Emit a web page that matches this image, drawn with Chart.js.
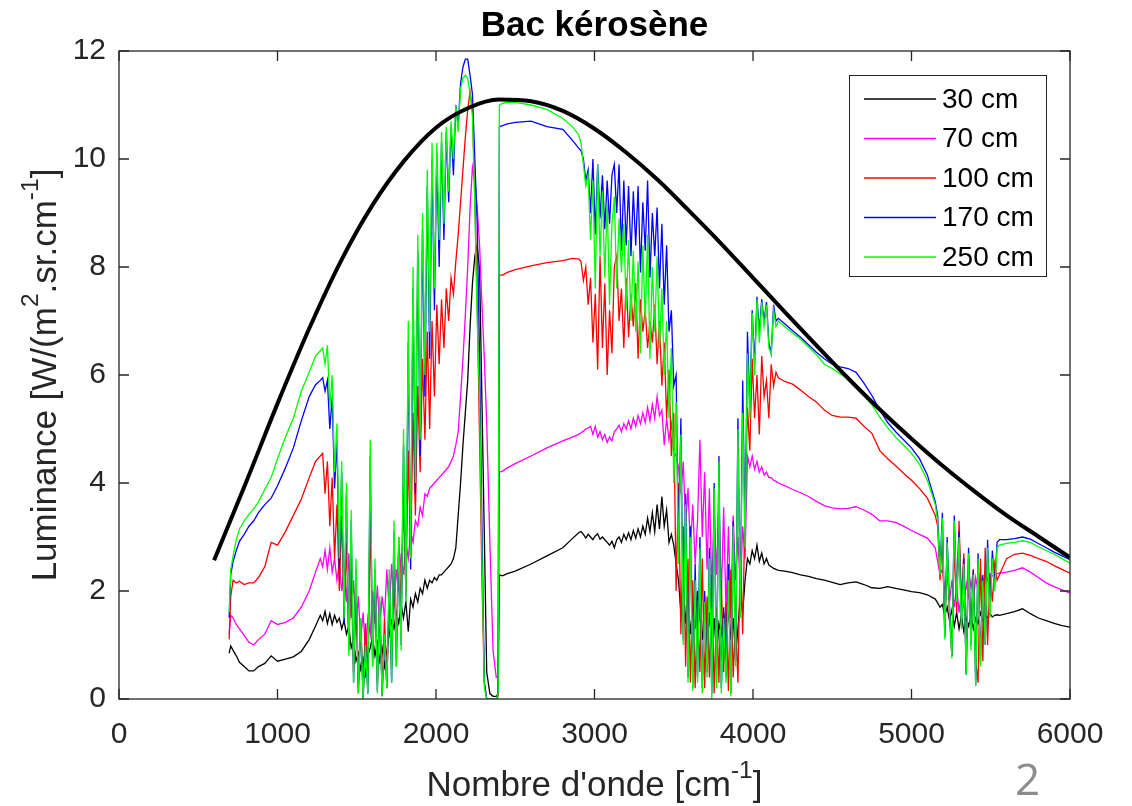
<!DOCTYPE html>
<html>
<head>
<meta charset="utf-8">
<script src="https://cdn.jsdelivr.net/npm/chart.js@4.4.0/dist/chart.umd.min.js"></script>
<style>
  body { margin: 0; background: #fff; }
  #wrap { position: relative; width: 1132px; height: 806px; }
  #slide { position: absolute; left: 1015px; top: 748px; font: 44px "Open Sans", sans-serif; color: #8c8c8c; }
</style>
</head>
<body>
<div id="wrap">
  <canvas id="spectre" width="1132" height="806"></canvas>
  <div id="slide">2</div>
</div>
<script>
// wavenumber grid shared by the measured spectra (cm-1)
const wn = [
  695, 705, 720, 740, 760, 790, 820, 850, 880, 920, 960, 1000, 1050, 1100, 1150, 1200, 1240, 1270,
  1285, 1300, 1315, 1330, 1345, 1360, 1375, 1390, 1405, 1420,
  1435, 1450, 1465, 1480, 1495, 1510, 1525, 1540, 1555, 1570,
  1585, 1600, 1615, 1630, 1645, 1660, 1675, 1690, 1705, 1720,
  1735, 1750, 1765, 1780, 1795, 1810, 1825, 1840, 1855, 1870,
  1885, 1900, 1915, 1930, 1945, 1960, 1975, 1990, 2005, 2020,
  2035, 2050, 2065, 2080, 2095, 2110, 2125, 2140, 2155, 2170,
  2185, 2200, 2215,
  2230, 2245, 2260, 2275, 2290, 2305, 2320, 2340, 2360, 2380, 2392, 2400, 2420,
  2450, 2500, 2600, 2700, 2800, 2860, 2900,
  2915, 2930, 2945, 2960, 2975, 2990, 3005, 3020, 3035, 3050,
  3065, 3080, 3095, 3110, 3125, 3140, 3155, 3170, 3185, 3200,
  3215, 3230, 3245, 3260, 3275, 3290, 3305, 3320, 3335, 3350,
  3365, 3380, 3395, 3410, 3425, 3440, 3455, 3470, 3485, 3500,
  3515, 3530, 3545, 3560, 3575, 3590, 3605, 3620, 3635, 3650,
  3665, 3680, 3695, 3710, 3725, 3740, 3755, 3770, 3785, 3800,
  3815, 3830, 3845, 3860, 3875, 3890, 3905, 3920, 3935, 3950,
  3965, 3980, 3995, 4010, 4025, 4040, 4055, 4070, 4085, 4100,
  4115, 4130, 4145, 4160,
  4200, 4250, 4300, 4350, 4400, 4450, 4500, 4550, 4600, 4650,
  4700, 4750, 4800, 4850, 4900, 4950, 5000, 5050, 5100, 5150,
  5165, 5180, 5195, 5210, 5225, 5240, 5255, 5270, 5285, 5300,
  5315, 5330, 5345, 5360, 5375, 5390, 5405, 5420, 5435, 5450,
  5465, 5480, 5495, 5510, 5525, 5540, 5555,
  5600, 5650, 5700, 5750, 5800, 5850, 5900, 5950, 6000
];

const lum30 = [
  0.85, 0.98, 0.9, 0.8, 0.68, 0.6, 0.52, 0.52, 0.6, 0.66, 0.8, 0.7, 0.74, 0.78, 0.88, 1.1, 1.35, 1.55,
  1.45, 1.62, 1.4, 1.58, 1.38, 1.55, 1.42, 1.5, 1.3, 1.45,
  1.2, 1.35, 0.95, 1.1, 0.7, 0.85, 0.55, 0.75, 0.45, 0.8,
  0.95, 1.15, 0.8, 1.05, 0.7, 0.95, 0.6, 0.9, 1.2, 1.45,
  1.3, 1.6, 1.4, 1.75, 1.5, 1.8, 1.25, 1.85, 1.7, 1.95,
  1.8, 2.05, 1.95, 2.2, 2.05, 2.2, 2.15, 2.25, 2.2, 2.3,
  2.3, 2.35, 2.4, 2.45, 2.5, 2.6, 2.8, 3.4, 4.0, 4.7,
  5.3, 5.9, 6.9,
  7.7, 8.2, 8.4, 7.95, 5.5, 3.0, 0.5, 0.1, 0.05, 0.05, 0.1, 2.3, 2.28,
  2.32, 2.37, 2.5, 2.65, 2.8, 2.97, 3.08,
  3.1, 3.05, 2.98, 3.05, 3.0, 2.95, 3.02, 3.06, 2.96, 3.0,
  2.95, 2.9, 2.85, 2.92, 2.8, 2.95, 3.0, 2.9, 3.05, 2.95,
  3.08, 2.95, 3.12, 2.98, 3.15, 3.0, 3.2, 3.05, 3.35, 3.1,
  3.45, 3.1, 3.6, 3.15, 3.75, 3.2, 3.5, 2.9, 3.05, 2.85,
  2.5, 2.2, 1.6, 2.1, 1.4, 1.9, 1.2, 1.75, 1.3, 2.0,
  1.5, 1.1, 1.8, 0.9, 1.6, 1.0, 1.5, 0.8, 1.4, 1.2,
  1.6, 0.9, 1.7, 1.1, 1.5, 0.8, 1.3, 1.9, 1.6, 2.2,
  2.6, 2.5, 2.75, 2.6, 2.85, 2.55, 2.7, 2.5, 2.6, 2.48,
  2.45, 2.42, 2.4, 2.38,
  2.37, 2.34, 2.3, 2.27, 2.23, 2.2, 2.16, 2.12, 2.15, 2.17,
  2.12, 2.06, 2.05, 2.08, 2.05, 2.02, 1.99, 1.97, 1.93, 1.85,
  1.78, 1.7, 1.75, 1.55, 1.7, 1.45, 1.65, 1.35, 1.6, 1.3,
  1.55, 1.25, 1.5, 1.35, 1.55, 1.3, 1.5, 1.4, 1.6, 1.45,
  1.55, 1.5, 1.58, 1.52, 1.55, 1.56, 1.55,
  1.58, 1.62, 1.67, 1.58, 1.5, 1.45, 1.4, 1.36, 1.33
];

const lum70 = [
  1.2, 1.55, 1.5, 1.38, 1.3, 1.18, 1.05, 1.0, 1.1, 1.2, 1.45, 1.38, 1.42, 1.5, 1.7, 2.0, 2.35, 2.6,
  2.45, 2.75, 2.4, 2.8, 2.35, 2.6, 2.2, 2.5, 2.0, 2.4,
  1.8, 2.7, 1.5, 2.2, 1.3, 1.9, 1.1, 1.6, 0.9, 1.5,
  1.2, 2.0, 1.4, 2.1, 1.3, 1.9, 1.5, 2.4, 1.6, 2.5,
  1.7, 2.4, 2.0, 2.7, 2.3, 2.9, 2.6, 3.1, 2.9, 3.3,
  3.2, 3.55, 3.4, 3.8, 3.75, 3.9, 3.95, 4.0, 4.05, 4.1,
  4.15, 4.2, 4.25, 4.3, 4.4, 4.5, 4.7, 4.95, 5.6, 6.3,
  7.1, 8.0, 9.1,
  9.85, 9.6, 9.1, 8.4, 7.3, 6.3, 5.1, 2.9, 0.9, 0.4, 0.4, 4.2, 4.22,
  4.28, 4.36, 4.5, 4.65, 4.78, 4.85, 4.9,
  4.93, 4.96, 5.0, 5.02, 5.05, 4.9, 5.05, 4.85, 4.95, 4.8,
  4.9, 4.75, 4.85, 4.78, 4.95, 5.0, 5.07, 4.95, 5.1, 5.0,
  5.15, 5.0, 5.2, 5.05, 5.25, 5.1, 5.3, 5.12, 5.4, 5.15,
  5.45, 5.2, 5.6, 5.25, 5.35, 4.7, 5.2, 4.8, 5.1, 4.6,
  4.5, 4.3, 3.8, 4.4, 3.2, 3.9, 2.8, 3.6, 2.5, 3.3,
  4.8, 3.0, 4.2, 2.4, 3.9, 2.0, 3.5, 2.3, 3.7, 1.9,
  3.55, 1.6, 3.2, 1.5, 3.4, 2.2, 3.0, 2.0, 3.2, 2.6,
  4.5, 4.3, 4.5, 4.25, 4.4, 4.2, 4.3, 4.15, 4.2, 4.1,
  4.1, 4.05, 4.03, 4.0,
  3.95, 3.88, 3.82, 3.75, 3.66, 3.58, 3.54, 3.52, 3.53, 3.56,
  3.5, 3.42, 3.3, 3.3, 3.27, 3.2, 3.12, 3.05, 2.98, 2.8,
  2.55, 2.3, 2.4, 2.0, 2.3, 1.8, 2.2, 1.7, 2.1, 1.6,
  2.0, 1.7, 2.15, 1.9, 2.2, 1.8, 2.25, 2.0, 2.3, 2.1,
  2.3, 2.2, 2.32, 2.28, 2.3, 2.32, 2.33,
  2.35, 2.38, 2.43, 2.35, 2.25, 2.15, 2.08, 2.02, 1.96
];

const lum100 = [
  1.1, 1.9, 2.2, 2.15, 2.18, 2.12, 2.15, 2.15, 2.25, 2.45, 2.9, 2.85, 3.1, 3.4, 3.7, 4.1, 4.4, 4.5,
  4.55, 3.8, 4.4, 3.2, 4.1, 2.6, 3.6, 2.0, 3.4, 1.6,
  2.9, 1.0, 2.4, 0.5, 1.8, 0.2, 1.5, 0.1, 1.4, 0.3,
  3.4, 0.8, 2.2, 0.3, 1.7, 0.15, 1.5, 0.3, 1.9, 0.6,
  2.4, 1.0, 3.0, 1.6, 3.8, 2.0, 4.6, 2.6, 5.3, 3.4,
  5.8, 4.2, 6.3, 4.8, 6.8, 5.0, 7.0, 5.6, 7.3, 6.2,
  7.4, 6.5, 7.6, 7.0, 7.8, 7.5, 8.1, 8.6, 9.2, 9.8,
  10.4, 10.9, 11.25,
  10.9, 9.3, 7.3, 4.8, 2.2, 0.3, 0.0, 0.0, 0.0, 0.0, 0.05, 7.85, 7.85,
  7.9, 7.95, 8.02, 8.08, 8.12, 8.16, 8.15,
  8.1, 7.75, 8.0, 7.3, 7.8, 6.6, 7.5, 6.1, 8.2, 6.5,
  7.7, 6.0, 7.2, 6.4, 8.0, 8.2, 7.0, 7.6, 6.5, 7.8,
  6.7, 7.5, 6.9, 7.7, 6.3, 7.4, 6.8, 7.2, 6.5, 7.0,
  6.6, 7.3, 6.2, 7.0, 5.8, 6.6, 5.2, 6.1, 4.5, 5.3,
  2.0, 4.0, 1.2, 3.2, 0.6, 2.6, 0.3, 2.2, 0.2, 1.8,
  0.5, 2.6, 0.2, 1.9, 0.4, 2.3, 0.1, 1.7, 0.3, 2.2,
  0.5, 1.8, 0.15, 2.4, 0.4, 1.5, 0.3, 2.8, 1.2, 3.6,
  5.4, 4.6, 6.3, 5.2, 6.0, 4.9, 6.35, 5.6, 5.9, 5.2,
  6.2, 5.8, 6.05, 5.95,
  5.88, 5.83, 5.72, 5.6, 5.5, 5.35, 5.25, 5.22, 5.22, 5.2,
  5.05, 4.92, 4.6, 4.45, 4.32, 4.18, 4.05, 3.9, 3.72, 3.4,
  3.2, 2.2, 3.0, 1.2, 2.8, 1.5, 0.8, 2.9, 1.6, 3.3,
  1.8, 2.7, 0.5, 2.6, 1.2, 2.4, 0.7, 0.3, 2.6, 0.7,
  2.8, 1.0, 2.3, 1.8, 2.5, 2.2, 2.3,
  2.6, 2.68, 2.7, 2.66, 2.6, 2.55, 2.47, 2.4, 2.33
];

const lum170 = [
  1.5, 2.3, 2.55, 2.75, 2.92, 3.05, 3.2, 3.3, 3.45, 3.6, 3.72, 3.95, 4.28, 4.65, 5.15, 5.6, 5.82, 5.9,
  5.95, 5.7, 5.9, 5.0, 5.6, 3.9, 4.8, 2.4, 4.2, 1.4,
  3.8, 0.9, 3.3, 0.3, 2.4, 0.1, 1.4, 0.0, 1.0, 0.1,
  4.5, 0.6, 2.4, 0.15, 1.8, 0.05, 1.1, 0.2, 2.2, 0.3,
  3.1, 0.6, 2.8, 1.0, 4.7, 1.9, 6.6, 2.4, 7.6, 3.8,
  8.3, 4.5, 8.7, 5.6, 9.5, 6.3, 10.0, 7.2, 10.1, 8.0,
  10.3, 8.5, 10.5, 9.2, 10.6, 9.7, 11.0, 10.6, 11.4, 11.7,
  11.85, 11.85, 11.55,
  11.2, 10.0, 8.8, 6.3, 3.2, 0.3, 0.0, 0.0, 0.0, 0.0, 0.1, 10.6, 10.62,
  10.65, 10.68, 10.7, 10.6, 10.55, 10.35, 10.2,
  10.15, 10.0, 9.6, 9.8, 9.0, 10.0, 8.6, 9.9, 8.9, 9.7,
  8.7, 9.6, 8.8, 9.7, 9.9, 9.0, 9.9, 8.3, 9.6, 8.4,
  9.5, 8.2, 9.4, 8.4, 9.5, 7.9, 9.2, 8.3, 9.6, 7.8,
  9.0, 8.2, 9.1, 7.6, 8.8, 7.3, 8.4, 6.8, 7.2, 5.8,
  6.0, 2.8, 5.2, 1.1, 3.8, 0.4, 3.2, 0.2, 2.5, 0.4,
  3.0, 0.2, 2.0, 0.5, 2.8, 0.1, 4.0, 0.3, 4.5, 0.2,
  1.7, 0.4, 2.5, 0.1, 3.3, 0.7, 5.2, 1.6, 5.9, 3.0,
  6.8, 5.4, 7.2, 6.2, 7.45, 6.8, 7.4, 7.0, 7.35, 6.6,
  6.4, 7.3, 7.0, 7.05,
  6.95, 6.82, 6.7, 6.56, 6.42, 6.3, 6.2, 6.15, 6.12, 6.05,
  5.85, 5.62, 5.35, 5.12, 4.95, 4.8, 4.65, 4.45, 4.15, 3.65,
  3.4, 2.4, 3.45, 1.15, 3.0, 1.7, 0.8, 3.4, 1.9, 3.1,
  1.4, 2.6, 0.45, 2.8, 1.0, 2.4, 0.25, 2.7, 0.65, 2.3,
  1.0, 2.95, 1.6, 2.75, 2.1, 2.9, 2.95,
  2.95, 2.97, 3.0, 2.96, 2.88, 2.8, 2.72, 2.65, 2.58
];

const lum250 = [
  1.6, 2.4, 2.65, 2.95, 3.15, 3.3, 3.42, 3.52, 3.65, 3.88, 4.1, 4.45, 4.85, 5.2, 5.7, 6.05, 6.35, 6.45,
  6.5, 6.2, 6.55, 5.4, 6.0, 4.2, 5.1, 2.6, 4.4, 1.5,
  4.0, 0.8, 3.5, 0.3, 2.6, 0.1, 1.5, 0.0, 1.0, 0.1,
  4.8, 0.6, 2.6, 0.1, 1.9, 0.05, 1.2, 0.2, 2.4, 0.3,
  3.3, 0.6, 3.0, 0.9, 5.0, 1.8, 7.0, 2.6, 8.0, 4.0,
  8.6, 4.8, 9.0, 6.0, 9.8, 6.8, 10.3, 7.6, 10.3, 8.5,
  10.5, 8.8, 10.6, 9.4, 10.7, 10.0, 11.0, 10.5, 11.3, 11.5,
  11.55, 11.5, 11.2,
  10.8, 9.1, 7.0, 5.5, 2.6, 0.2, 0.0, 0.0, 0.0, 0.0, 0.1, 11.0, 11.03,
  11.05, 11.05, 11.0, 10.92, 10.75, 10.6, 10.45,
  10.3, 9.9, 9.5, 9.7, 8.5, 9.6, 7.6, 9.9, 8.2, 9.4,
  7.8, 9.2, 7.3, 8.8, 9.3, 7.6, 8.9, 7.9, 8.8, 7.2,
  8.5, 7.0, 8.3, 6.8, 8.1, 6.4, 8.4, 7.0, 8.6, 6.3,
  8.0, 6.8, 8.2, 6.5, 7.6, 6.0, 7.0, 5.2, 6.5, 4.0,
  5.5, 2.5, 4.9, 1.0, 3.6, 0.3, 3.0, 0.15, 2.2, 0.3,
  2.8, 0.1, 1.8, 0.4, 2.6, 0.0, 3.9, 0.2, 4.4, 0.1,
  1.5, 0.3, 2.2, 0.05, 3.2, 0.6, 5.0, 1.5, 5.3, 2.8,
  6.4, 5.2, 7.15, 6.0, 7.4, 6.6, 7.35, 6.9, 7.3, 6.5,
  6.4, 7.2, 6.9, 7.0,
  6.9, 6.78, 6.66, 6.52, 6.38, 6.2, 6.12, 6.02, 5.93, 5.8,
  5.62, 5.45, 5.22, 5.02, 4.85, 4.7, 4.55, 4.35, 4.05, 3.6,
  3.3, 2.3, 3.35, 1.1, 2.9, 1.6, 0.75, 3.3, 1.8, 3.0,
  1.3, 2.5, 0.45, 2.7, 0.9, 2.3, 0.25, 2.6, 0.6, 2.2,
  1.0, 2.8, 1.5, 2.6, 2.0, 2.8, 2.85,
  2.88, 2.9, 2.93, 2.9, 2.82, 2.75, 2.68, 2.6, 2.52
];

// black-body reference curve (thick line)
const bbWn = [600, 800, 1000, 1200, 1400, 1600, 1800, 2000, 2200, 2400, 2600, 2800, 3000, 3200,
  3400, 3600, 3800, 4000, 4200, 4400, 4600, 4800, 5000, 5200, 5400, 5600, 5800, 6000];
const bbLum = [2.57, 4.0, 5.47, 6.86, 8.11, 9.15, 9.97, 10.58, 10.94, 11.1, 11.07, 10.89, 10.56, 10.12,
  9.61, 9.03, 8.43, 7.8, 7.17, 6.55, 5.94, 5.36, 4.82, 4.31, 3.84, 3.4, 3.01, 2.62];

const labels = ['30 cm', '70 cm', '100 cm', '170 cm', '250 cm'];
const colors = ['#000000', '#ff00ff', '#ff0000', '#0000ff', '#00ff00'];
const series = [lum30, lum70, lum100, lum170, lum250];
const xTicks = [0, 1000, 2000, 3000, 4000, 5000, 6000];
const yTicks = [0, 2, 4, 6, 8, 10, 12];

series.forEach((s, i) => {
  if (s.length !== wn.length) throw new Error(labels[i] + ': ' + s.length + ' vs ' + wn.length);
});

const FONT = '"Liberation Sans", Arial, Helvetica, sans-serif';
const INK = '#262626';

// text with superscripts, centred on (0,0)
function richText(ctx, parts, size, bold) {
  const w = bold ? 'bold ' : '';
  let total = 0;
  parts.forEach(p => {
    ctx.font = w + (p.sup ? size * 0.7 : size) + 'px ' + FONT;
    p.w = ctx.measureText(p.t).width;
    total += p.w;
  });
  let x = -total / 2;
  ctx.textAlign = 'left';
  ctx.textBaseline = 'middle';
  parts.forEach(p => {
    ctx.font = w + (p.sup ? size * 0.7 : size) + 'px ' + FONT;
    ctx.fillText(p.t, x, p.sup ? -size * 0.42 : 0);
    x += p.w;
  });
}

const decor = {
  id: 'decor',
  afterDatasetsDraw(chart) {
    const { ctx, chartArea: a, scales: { x, y } } = chart;
    ctx.save();
    // axes box + inward ticks
    ctx.strokeStyle = INK;
    ctx.lineWidth = 1.3;
    ctx.strokeRect(a.left, a.top, a.right - a.left, a.bottom - a.top);
    ctx.beginPath();
    xTicks.forEach(v => {
      const px = x.getPixelForValue(v);
      ctx.moveTo(px, a.bottom); ctx.lineTo(px, a.bottom - 10);
      ctx.moveTo(px, a.top); ctx.lineTo(px, a.top + 10);
    });
    yTicks.forEach(v => {
      const py = y.getPixelForValue(v);
      ctx.moveTo(a.left, py); ctx.lineTo(a.left + 10, py);
      ctx.moveTo(a.right, py); ctx.lineTo(a.right - 10, py);
    });
    ctx.stroke();

    // legend
    const lx = 849, ly = 75, lw = 197, lh = 201;
    ctx.fillStyle = '#fff';
    ctx.fillRect(lx, ly, lw, lh);
    ctx.lineWidth = 1;
    ctx.strokeStyle = INK;
    ctx.strokeRect(lx + 0.5, ly + 0.5, lw, lh);
    labels.forEach((lab, i) => {
      const ry = 99 + i * 39.5;
      ctx.strokeStyle = colors[i];
      ctx.lineWidth = 1.6;
      ctx.beginPath();
      ctx.moveTo(864, ry); ctx.lineTo(936, ry);
      ctx.stroke();
      ctx.fillStyle = '#000';
      ctx.font = '28px ' + FONT;
      ctx.textAlign = 'left';
      ctx.textBaseline = 'middle';
      ctx.fillText(lab, 942, ry + 1);
    });

    // titles
    ctx.fillStyle = '#000';
    ctx.save();
    ctx.translate((a.left + a.right) / 2, 26);
    richText(ctx, [{ t: 'Bac kérosène' }], 35, true);
    ctx.restore();

    ctx.fillStyle = INK;
    ctx.save();
    ctx.translate((a.left + a.right) / 2, 786);
    richText(ctx, [{ t: "Nombre d'onde [cm" }, { t: '-1', sup: true }, { t: ']' }], 35, false);
    ctx.restore();

    ctx.save();
    ctx.translate(46, (a.top + a.bottom) / 2);
    ctx.rotate(-Math.PI / 2);
    richText(ctx, [{ t: 'Luminance [W/(m' }, { t: '2', sup: true }, { t: '.sr.cm' }, { t: '-1', sup: true }, { t: ']' }], 35, false);
    ctx.restore();

    ctx.restore();
  }
};

const datasets = series.map((s, i) => ({
  label: labels[i],
  data: wn.map((w, k) => ({ x: w, y: s[k] })),
  borderColor: colors[i],
  borderWidth: 1.3,
  pointRadius: 0,
  fill: false,
  tension: 0,
  order: 5 - i
}));
datasets.push({
  label: 'corps noir',
  data: bbWn.map((w, k) => ({ x: w, y: bbLum[k] })),
  borderColor: '#000',
  borderWidth: 4,
  pointRadius: 0,
  fill: false,
  cubicInterpolationMode: 'monotone',
  order: 0
});

new Chart(document.getElementById('spectre'), {
  type: 'line',
  data: { datasets },
  options: {
    responsive: false,
    animation: false,
    events: [],
    layout: { padding: { left: 0, right: 62, top: 51, bottom: 0 }, autoPadding: false },
    plugins: {
      legend: { display: false },
      title: { display: false },
      tooltip: { enabled: false }
    },
    scales: {
      x: {
        type: 'linear',
        min: 0,
        max: 6000,
        afterFit: s => { s.height = 107; },
        grid: { display: false, drawTicks: false },
        border: { display: false },
        ticks: { stepSize: 1000, maxRotation: 0, autoSkip: false, padding: 18, color: INK,
          font: { family: FONT, size: 30 }, callback: v => String(v) }
      },
      y: {
        type: 'linear',
        min: 0,
        max: 12,
        afterFit: s => { s.width = 119; },
        grid: { display: false, drawTicks: false },
        border: { display: false },
        ticks: { stepSize: 2, padding: 13, color: INK, font: { family: FONT, size: 30 },
          callback: v => String(v) }
      }
    }
  },
  plugins: [decor]
});
</script>
</body>
</html>
